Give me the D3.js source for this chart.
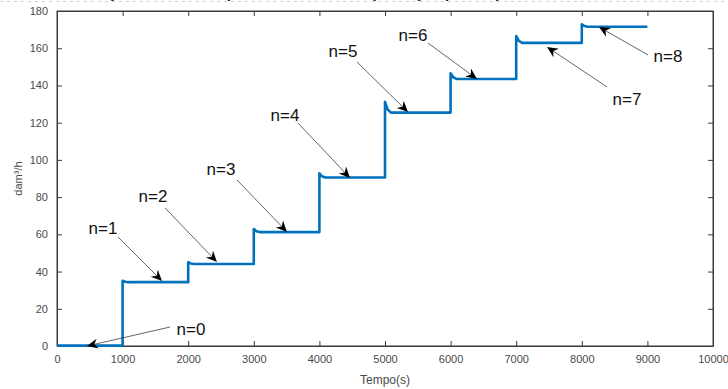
<!DOCTYPE html>
<html>
<head>
<meta charset="utf-8">
<script src="https://cdn.jsdelivr.net/npm/d3@7"></script>
<style>
  html, body { margin: 0; padding: 0; background: #fff; }
  svg { display: block; }
</style>
</head>
<body>
<svg id="chart" width="728" height="389"></svg>
<script>
// Step response of total flow as each new well (n) comes online
const stepTimes   = [0, 1000, 2000, 3000, 4000, 5000, 6000, 7000, 8000];
const stepPeaks   = [0.2, 35.1, 45.0, 62.9, 92.8, 131.2, 146.5, 166.6, 172.9];
const stepLevels  = [0.2, 34.3, 44.1, 61.2, 90.5, 125.4, 143.5, 162.9, 171.5];
const endTime     = 9000;

const xTicks = [0, 1000, 2000, 3000, 4000, 5000, 6000, 7000, 8000, 9000, 10000];
const yTicks = [0, 20, 40, 60, 80, 100, 120, 140, 160, 180];

// Annotation labels: text, arrow tip (t, value), arrow tail (t, value), text centre (t, value)
const noteLabels = ["n=0", "n=1", "n=2", "n=3", "n=4", "n=5", "n=6", "n=7", "n=8"];
const noteTipT   = [457, 1601, 2439, 3506, 4466, 5351, 6402, 7470, 8262];
const noteTipV   = [0, 34.9, 45.1, 61.3, 90.3, 125.7, 143.5, 160.7, 171.4];
const noteTailT  = [1723, 930, 1646, 2744, 3674, 4573, 5655, 8384, 9009];
const noteTailV  = [10.2, 58.6, 74.2, 89.2, 119.8, 152.6, 162.8, 139.2, 156.4];
const noteTextT  = [2043, 701, 1463, 2500, 3476, 4360, 5427, 8689, 9314];
const noteTextV  = [8.6, 62.9, 80.1, 94.6, 124.1, 158.5, 167.1, 132.2, 155.3];

const svg = d3.select("#chart");
const margin = { left: 57, right: 15, top: 11, bottom: 43 };
const W = 728, H = 389;

const x = d3.scaleLinear().domain([0, 10000]).range([margin.left, W - margin.right]);
const y = d3.scaleLinear().domain([0, 180]).range([H - margin.bottom, margin.top]);

const axisColor = "#3a3a3a";
const font = "'Liberation Sans', Arial, Helvetica, sans-serif";

// title line running off the top edge
svg.append("line")
  .attr("x1", 0).attr("x2", W).attr("y1", 1.5).attr("y2", 1.5)
  .attr("stroke", "#d0d0d0").attr("stroke-dasharray", "3,4");
svg.append("text")
  .attr("x", 290).attr("y", -2)
  .attr("text-anchor", "middle")
  .attr("font-family", font).attr("font-weight", "bold").attr("font-size", 15)
  .attr("fill", "#111")
  .text("Evolução total do campo de acordo com a produção por etapa");

// plot box
const g = svg.append("g");
g.append("rect")
  .attr("x", x(0)).attr("y", y(180))
  .attr("width", x(10000) - x(0)).attr("height", y(0) - y(180))
  .attr("fill", "#fff").attr("stroke", axisColor).attr("stroke-width", 1);

// axes with inward ticks on all sides
const xb = g.append("g").attr("transform", `translate(0,${y(0)})`)
  .call(d3.axisBottom(x).tickValues(xTicks).tickSizeInner(-5).tickSizeOuter(0).tickPadding(9).tickFormat(d3.format("d")));
const xt = g.append("g").attr("transform", `translate(0,${y(180)})`)
  .call(d3.axisTop(x).tickValues(xTicks).tickSizeInner(-5).tickSizeOuter(0).tickFormat(""));
const yl = g.append("g").attr("transform", `translate(${x(0)},0)`)
  .call(d3.axisLeft(y).tickValues(yTicks).tickSizeInner(-5).tickSizeOuter(0).tickPadding(9));
const yr = g.append("g").attr("transform", `translate(${x(10000)},0)`)
  .call(d3.axisRight(y).tickValues(yTicks).tickSizeInner(-5).tickSizeOuter(0).tickFormat(""));

[xb, xt, yl, yr].forEach(a => {
  a.select(".domain").attr("stroke", axisColor);
  a.selectAll(".tick line").attr("stroke", axisColor);
  a.selectAll(".tick text").attr("fill", "#4a4a4a").attr("font-family", font).attr("font-size", 11);
});

// axis titles
svg.append("text")
  .attr("x", (x(0) + x(10000)) / 2).attr("y", 384)
  .attr("text-anchor", "middle").attr("font-family", font).attr("font-size", 12)
  .attr("fill", "#4a4a4a").text("Tempo(s)");
svg.append("text")
  .attr("transform", `translate(22,${(y(0) + y(180)) / 2}) rotate(-90)`)
  .attr("text-anchor", "middle").attr("font-family", font).attr("font-size", 11)
  .attr("fill", "#4a4a4a").text("dam³/h");

// build the stepped series from the step arrays
const series = [];
stepTimes.forEach((t, i) => {
  const next = i < stepTimes.length - 1 ? stepTimes[i + 1] : endTime;
  if (i > 0) series.push([t, stepLevels[i - 1]]);
  series.push([t, stepPeaks[i]]);
  series.push([t + 40, stepLevels[i] + (stepPeaks[i] - stepLevels[i]) * 0.3]);
  series.push([t + 90, stepLevels[i]]);
  series.push([next, stepLevels[i]]);
});

g.append("path")
  .datum(series)
  .attr("fill", "none")
  .attr("stroke", "#0072BD")
  .attr("stroke-width", 2.6)
  .attr("stroke-linejoin", "round")
  .attr("d", d3.line().x(d => x(d[0])).y(d => y(d[1])));

// annotation arrows
const notes = noteLabels.map((label, i) => ({
  label,
  tip: [x(noteTipT[i]), y(noteTipV[i])],
  tail: [x(noteTailT[i]), y(noteTailV[i])],
  text: [x(noteTextT[i]), y(noteTextV[i])]
}));

const ng = svg.append("g");
notes.forEach(n => {
  const [x1, y1] = n.tail, [x2, y2] = n.tip;
  const ang = Math.atan2(y2 - y1, x2 - x1);
  const headLen = 11, headW = 5, notch = 7.5;
  // shaft ends where the head begins
  ng.append("line")
    .attr("x1", x1).attr("y1", y1)
    .attr("x2", x2 - Math.cos(ang) * notch).attr("y2", y2 - Math.sin(ang) * notch)
    .attr("stroke", "#222").attr("stroke-width", 0.7);
  const c = Math.cos(ang), s = Math.sin(ang);
  const bx = x2 - c * headLen, by = y2 - s * headLen;
  const nx = x2 - c * notch, ny = y2 - s * notch;
  const pts = [
    [x2, y2],
    [bx - s * headW, by + c * headW],
    [nx, ny],
    [bx + s * headW, by - c * headW]
  ];
  ng.append("path")
    .attr("d", "M" + pts.map(p => p.join(",")).join("L") + "Z")
    .attr("fill", "#000");
  ng.append("text")
    .attr("x", n.text[0]).attr("y", n.text[1])
    .attr("text-anchor", "middle").attr("dominant-baseline", "central")
    .attr("font-family", font).attr("font-size", 17).attr("fill", "#111")
    .text(n.label);
});
</script>
</body>
</html>
